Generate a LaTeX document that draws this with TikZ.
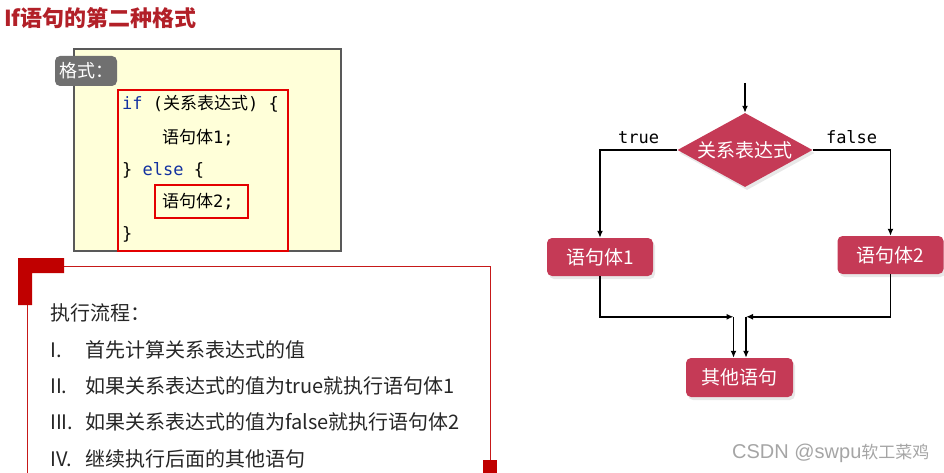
\documentclass[tikz,border=0pt]{standalone}
\usepackage{fontspec}
\setmainfont{Noto Sans CJK SC}
\newfontfamily\cjk{Noto Sans CJK SC}
\newfontfamily\codefont{DejaVu Sans Mono}
\newfontfamily\wmlatin{Liberation Sans}
\usetikzlibrary{arrows.meta, shapes.geometric, shadows, calc}

\definecolor{titlered}{RGB}{178,32,40}
\definecolor{noteyellow}{RGB}{255,255,217}
\definecolor{tagGray}{RGB}{112,112,112}
\definecolor{codered}{RGB}{228,0,0}
\definecolor{kwblue}{RGB}{20,50,160}
\definecolor{framered}{RGB}{192,0,0}
\definecolor{flowred}{RGB}{197,58,86}
\definecolor{wmgray}{RGB}{165,165,165}

\newcommand{\fsz}[1]{\fontsize{#1pt}{#1pt}\selectfont}

\begin{document}
\begin{tikzpicture}[x=1pt, y=-1pt, >={Latex[length=7pt,width=6pt]},
    codeline/.style={anchor=west, inner sep=0pt, font=\codefont\fsz{17}},
    stepline/.style={anchor=west, inner sep=0pt, font=\fsz{20}, text=black!85},
    flowbox/.style={rectangle, rounded corners=5pt, fill=flowred, text=white,
        font=\fsz{19}, minimum width=106pt, minimum height=38pt, inner sep=0pt,
        drop shadow={shadow xshift=2pt, shadow yshift=-3pt, fill=black!18}},
    flowline/.style={->, line width=1.4pt}]

    \useasboundingbox (0,0) rectangle (944,473);

    % --- 标题 ---
    \node[anchor=west, inner sep=0pt, text=titlered, font=\bfseries\fsz{22}] (title) at (4,18) {If语句的第二种格式};

    % --- 格式框 (黄色) ---
    \draw[fill=noteyellow, draw=black!65, line width=1.2pt] (74,49) rectangle (341,251);
    \node[fill=tagGray, rounded corners=5pt, text=white, font=\fsz{18},
        minimum width=62pt, minimum height=30pt, inner sep=0pt] (tag) at (86,71) {格式：};

    % 代码行
    \node[codeline] (c1) at (122,104) {{\color{kwblue}if} ({\cjk 关系表达式}) \{};
    \node[codeline] (c2) at (162,138) {{\cjk 语句体}1;};
    \node[codeline] (c3) at (122,170) {\} {\color{kwblue}else} \{};
    \node[codeline] (c4) at (162,202) {{\cjk 语句体}2;};
    \node[codeline] (c5) at (122,234) {\}};

    % 红色标记框
    \draw[codered, line width=2pt] (118,90) rectangle (288,251);
    \draw[codered, line width=2pt] (155,185) rectangle (248,218);

    % --- 执行流程框 ---
    \draw[framered!90, line width=1pt] (64,266) -- (490,266) -- (490,460);
    \draw[framered!90, line width=1pt] (27,300) -- (27,473);
    \fill[framered] (18,258) -- (64,258) -- (64,273) -- (32,273) -- (32,305) -- (18,305) -- cycle;
    \fill[framered] (483,460) rectangle (497,473);

    \node[stepline] (s0) at (50,313) {执行流程：};
    \foreach \num/\txt/\yy in {I./首先计算关系表达式的值/350,
                               II./如果关系表达式的值为true就执行语句体1/386,
                               III./如果关系表达式的值为false就执行语句体2/422,
                               IV./继续执行后面的其他语句/459}{
        \node[stepline] at (50,\yy) {\num};
        \node[stepline] at (85,\yy) {\txt};
    }

    % --- 流程图 ---
    \node[diamond, aspect=1.8, fill=flowred, text=white, font=\fsz{19},
        minimum width=135pt, minimum height=74pt, inner sep=1pt,
        drop shadow={shadow xshift=2pt, shadow yshift=-3pt, fill=black!18}] (cond) at (745,150) {关系表达式};
    \node[flowbox] (body1) at (600,257) {语句体1};
    \node[flowbox] (body2) at (890.5,255) {语句体2};
    \node[flowbox, minimum width=107pt, minimum height=39pt] (other) at (739.5,377.5) {其他语句};

    \coordinate (start) at (745,83);
    \coordinate (j1) at ($(other.north)+(-6,-41)$);
    \coordinate (j2) at ($(other.north)+(6.5,-41)$);

    \draw[flowline] (start) -- (cond.north);
    \draw[flowline] (cond.west) -| (body1.north)
        node[pos=0.25, above=2pt, font=\codefont\fsz{17}] {true};
    \draw[flowline] (cond.east) -| (body2.north)
        node[pos=0.25, above=2pt, font=\codefont\fsz{17}] {false};

    \draw[flowline] (body1.south) |- (j1);
    \draw[flowline] (j1) -- (j1 |- other.north);
    \draw[flowline] (body2.south) |- (j2);
    \draw[flowline] (j2) -- (j2 |- other.north);

    % --- 水印 ---
    \node[anchor=west, inner sep=0pt, text=wmgray] (mark) at (732,453)
        {{\wmlatin\fsz{20}CSDN @swpu}{\fsz{17}软工菜鸡}};

\end{tikzpicture}
\end{document}
